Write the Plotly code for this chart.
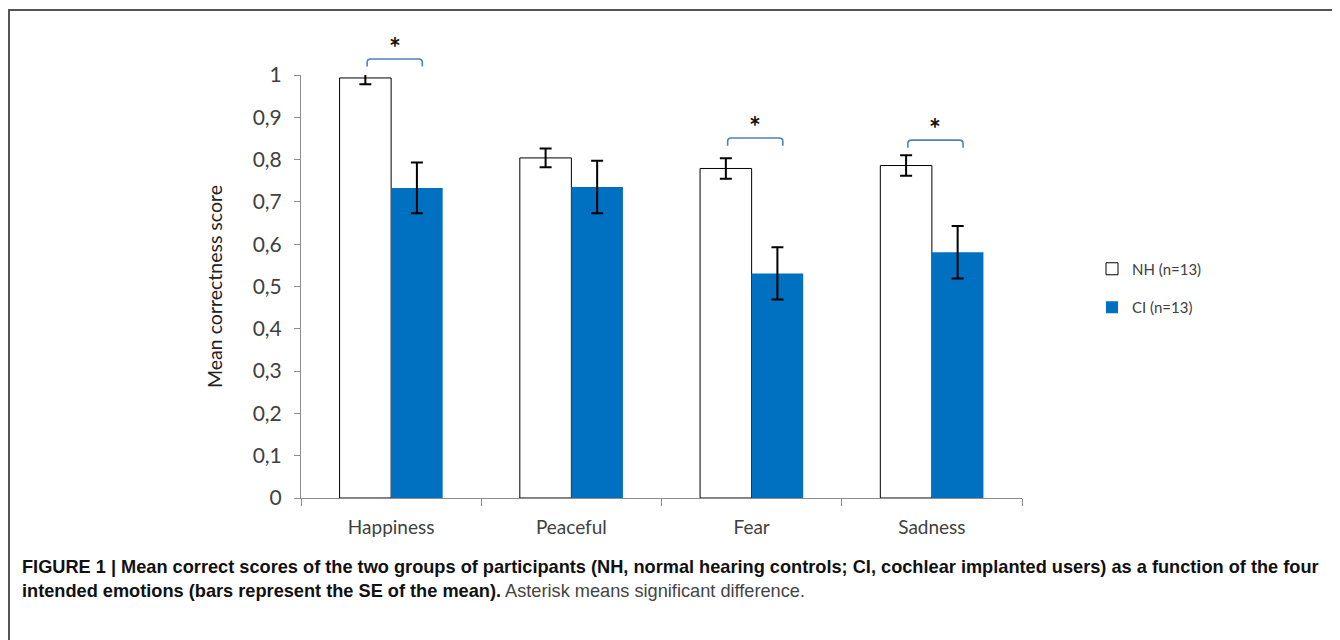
import plotly.graph_objects as go

categories = ["Happiness", "Peaceful", "Fear", "Sadness"]
nh_mean = [0.993, 0.804, 0.779, 0.786]
nh_se = [0.015, 0.022, 0.024, 0.024]
ci_mean = [0.733, 0.735, 0.531, 0.581]
ci_se = [0.060, 0.062, 0.062, 0.062]
significant = [True, False, True, True]
bracket_top = [1.038, None, 0.851, 0.846]
bracket_drop = 0.018

y_ticks = [0, 0.1, 0.2, 0.3, 0.4, 0.5, 0.6, 0.7, 0.8, 0.9, 1]

BLUE = "#0070C0"
BW = 0.286
xs = list(range(len(categories)))

# page has an 8px body margin; figure is sized so plot lands on reference pixels
W, H = 1332, 632
ML, MT, PW, PH = 293, 67, 721, 423


def px(xr):  # reference pixel x -> paper
    return (xr - 8 - ML) / PW


def py(yr):  # reference pixel y -> paper
    return (MT + PH - (yr - 8)) / PH


fig = go.Figure()
fig.add_trace(go.Bar(
    x=xs, y=nh_mean, name="NH (n=13)", width=BW, offset=-BW,
    marker=dict(color="white", line=dict(color="black", width=1)),
    error_y=dict(type="data", array=nh_se, color="black", thickness=2, width=6),
    legendgroup="a",
))
fig.add_trace(go.Bar(
    x=xs, y=ci_mean, name="CI (n=13)", width=BW, offset=0,
    marker=dict(color=BLUE, line=dict(color=BLUE, width=0)),
    error_y=dict(type="data", array=ci_se, color="black", thickness=2, width=6),
    legendgroup="b",
))

shapes = []
annotations = []
for i, sig in enumerate(significant):
    if not sig:
        continue
    x0 = i - BW / 2 + 0.01
    x1 = i + BW / 2 + 0.03
    yt = bracket_top[i]
    yb = yt - bracket_drop
    dx = 0.02
    dy = 0.008
    path = (f"M {x0},{yb} L {x0},{yt - dy} Q {x0},{yt} {x0 + dx},{yt} "
            f"L {x1 - dx},{yt} Q {x1},{yt} {x1},{yt - dy} L {x1},{yb}")
    shapes.append(dict(type="path", path=path, xref="x", yref="paper",
                       line=dict(color="#4F81BD", width=1.6)))
    annotations.append(dict(x=(x0 + x1) / 2, y=yt + 0.028, xref="x", yref="paper",
                            text="<b>*</b>", showarrow=False, yanchor="middle",
                            font=dict(family="Lato", size=28, color="#111")))

# figure frame lines (top and left)
shapes.append(dict(type="line", xref="paper", yref="paper",
                   x0=px(8), x1=px(1345), y0=py(10), y1=py(10),
                   line=dict(color="#555", width=2)))
shapes.append(dict(type="line", xref="paper", yref="paper",
                   x0=px(9), x1=px(9), y0=py(10), y1=py(645),
                   line=dict(color="#555", width=2)))

caption = ("<b>FIGURE 1 | Mean correct scores of the two groups of participants (NH, normal hearing controls; "
           "CI, cochlear implanted users) as a function of the four<br>"
           "intended emotions (bars represent the SE of the mean).</b> "
           "<span style='color:#444'>Asterisk means significant difference.</span>")
annotations.append(dict(x=px(20), y=py(555), xref="paper", yref="paper",
                        xanchor="left", yanchor="top", align="left", showarrow=False,
                        text=caption,
                        font=dict(family="Liberation Sans", size=18.2, color="#111")))

fig.update_layout(
    width=W, height=H,
    margin=dict(l=ML, r=W - ML - PW, t=MT, b=H - MT - PH),
    paper_bgcolor="white", plot_bgcolor="white",
    separators=", ",
    barmode="overlay",
    showlegend=True,
    legend=dict(x=px(1092), xanchor="left", y=py(288), yanchor="middle",
                traceorder="grouped", tracegroupgap=16,
                font=dict(family="Lato", size=15, color="#404040"),
                bgcolor="rgba(0,0,0,0)"),
    font=dict(family="Lato", size=16, color="#404040"),
    shapes=shapes,
    annotations=annotations,
    xaxis=dict(
        range=[-0.5, 3.5], tickmode="array", tickvals=xs, ticktext=categories,
        ticks="outside", ticklen=12, tickcolor="rgba(0,0,0,0)",
        showline=True, linecolor="#8c8c8c", linewidth=1, showgrid=False, zeroline=False,
        tickfont=dict(family="Lato", size=19, color="#404040"),
        minor=dict(tickmode="linear", tick0=-0.5, dtick=1, ticks="outside", ticklen=7,
                   tickcolor="#8c8c8c", showgrid=False),
    ),
    yaxis=dict(
        range=[0, 1], tickmode="array", tickvals=y_ticks,
        ticks="outside", ticklen=6, tickcolor="#8c8c8c",
        showline=True, linecolor="#8c8c8c", linewidth=1, showgrid=False, zeroline=False,
        tickfont=dict(family="Lato", size=21, color="#404040"),
        ticklabelstandoff=8,
        title=dict(text="Mean correctness score", standoff=24,
                   font=dict(family="Lato", size=19.5, color="#222")),
    ),
)

fig.write_html("out.html")
